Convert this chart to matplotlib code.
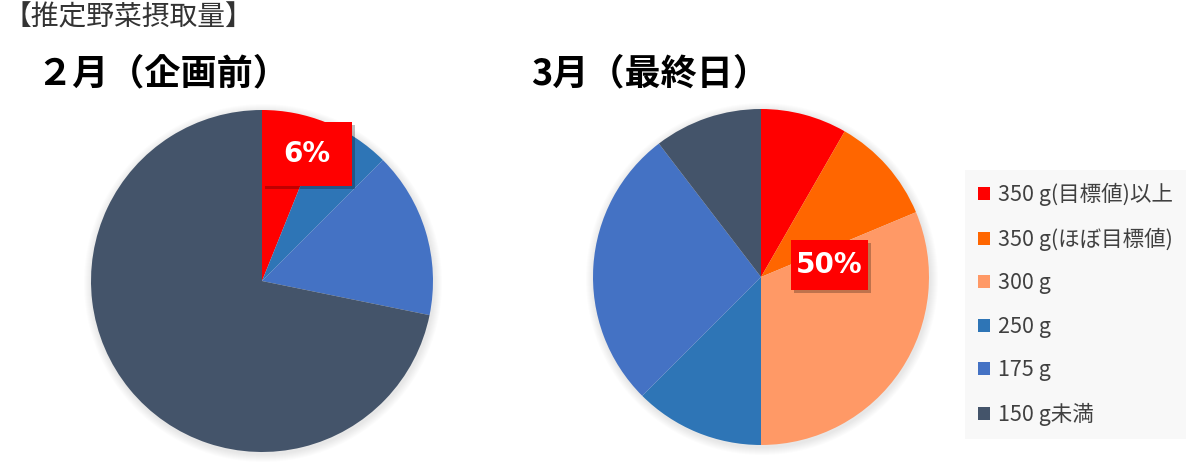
import matplotlib
matplotlib.use("Agg")
import matplotlib.pyplot as plt
from matplotlib.patches import Circle, Patch

plt.rcParams['font.family'] = ['Noto Sans CJK JP', 'DejaVu Sans']

categories = ["350 g(目標値)以上", "350 g(ほぼ目標値)", "300 g", "250 g", "175 g", "150 g未満"]
colors = ["#FF0000", "#FF6600", "#FF9966", "#2E75B6", "#4472C4", "#44546A"]

feb_values = [6.1, 0, 0, 6.4, 15.7, 71.8]
mar_values = [8.3, 10.4, 31.3, 12.5, 27.1, 10.4]

feb_label = "6%"
mar_label = "50%"

fig = plt.figure(figsize=(12, 4.72), dpi=100)
ax = fig.add_axes([0, 0, 1, 1])

H = 472


def soft_shadow(cx, cy, r):
    for i in range(8):
        ax.add_patch(Circle((cx + 1, cy - 2), r + 8 - i, color="#000000",
                            alpha=0.012, lw=0, zorder=1))


def draw_pie(values, cx, cy, r):
    soft_shadow(cx, cy, r)
    wedges, _ = ax.pie(values, colors=colors, startangle=90, counterclock=False,
                       center=(cx, cy), radius=r, frame=True,
                       wedgeprops=dict(linewidth=0, zorder=2))
    return wedges


draw_pie(feb_values, 262, H - 281, 171)
draw_pie(mar_values, 761, H - 277, 168)
ax.set_xlim(0, 1200)
ax.set_ylim(0, 472)
ax.set_aspect("equal")
ax.axis("off")


def red_box(x0, y0, w, h, text, size):
    # shadow then box (pixel coords from top)
    ax.add_patch(plt.Rectangle((x0 + 3, H - y0 - h - 3), w, h, color="#000000",
                               alpha=0.25, lw=0, zorder=4))
    ax.add_patch(plt.Rectangle((x0, H - y0 - h), w, h, color="#FF0000", lw=0, zorder=5))
    ax.text(x0 + w / 2, H - y0 - h / 2, text, color="white", fontsize=size,
            fontweight="bold", ha="center", va="center", zorder=6,
            family=["DejaVu Sans"])


red_box(262, 122, 90, 64, feb_label, 20)
red_box(791, 240, 77, 50, mar_label, 20)

fig.text(4 / 1200, 1 - 17 / H, "【推定野菜摂取量】", fontsize=20, color="#333333",
         ha="left", va="center")
fig.text(36 / 1200, 1 - 74 / H, "２月（企画前）", fontsize=26, fontweight="bold",
         color="black", ha="left", va="center")
fig.text(531 / 1200, 1 - 74 / H, "3月（最終日）", fontsize=26, fontweight="bold",
         color="black", ha="left", va="center")

handles = [Patch(facecolor=c, edgecolor="none") for c in colors]
leg = fig.legend(handles, categories, loc="upper left",
                 bbox_to_anchor=(965 / 1200, 1 - 170 / H), borderaxespad=0,
                 frameon=True, fontsize=15.5, handlelength=0.55, handleheight=0.55,
                 handletextpad=0.4, labelspacing=1.0, borderpad=0.6,
                 labelcolor="#404040", fancybox=False)
leg.get_frame().set_facecolor("#F7F7F7")
leg.get_frame().set_edgecolor("none")

fig.savefig("out.png", dpi=100, facecolor="white")
